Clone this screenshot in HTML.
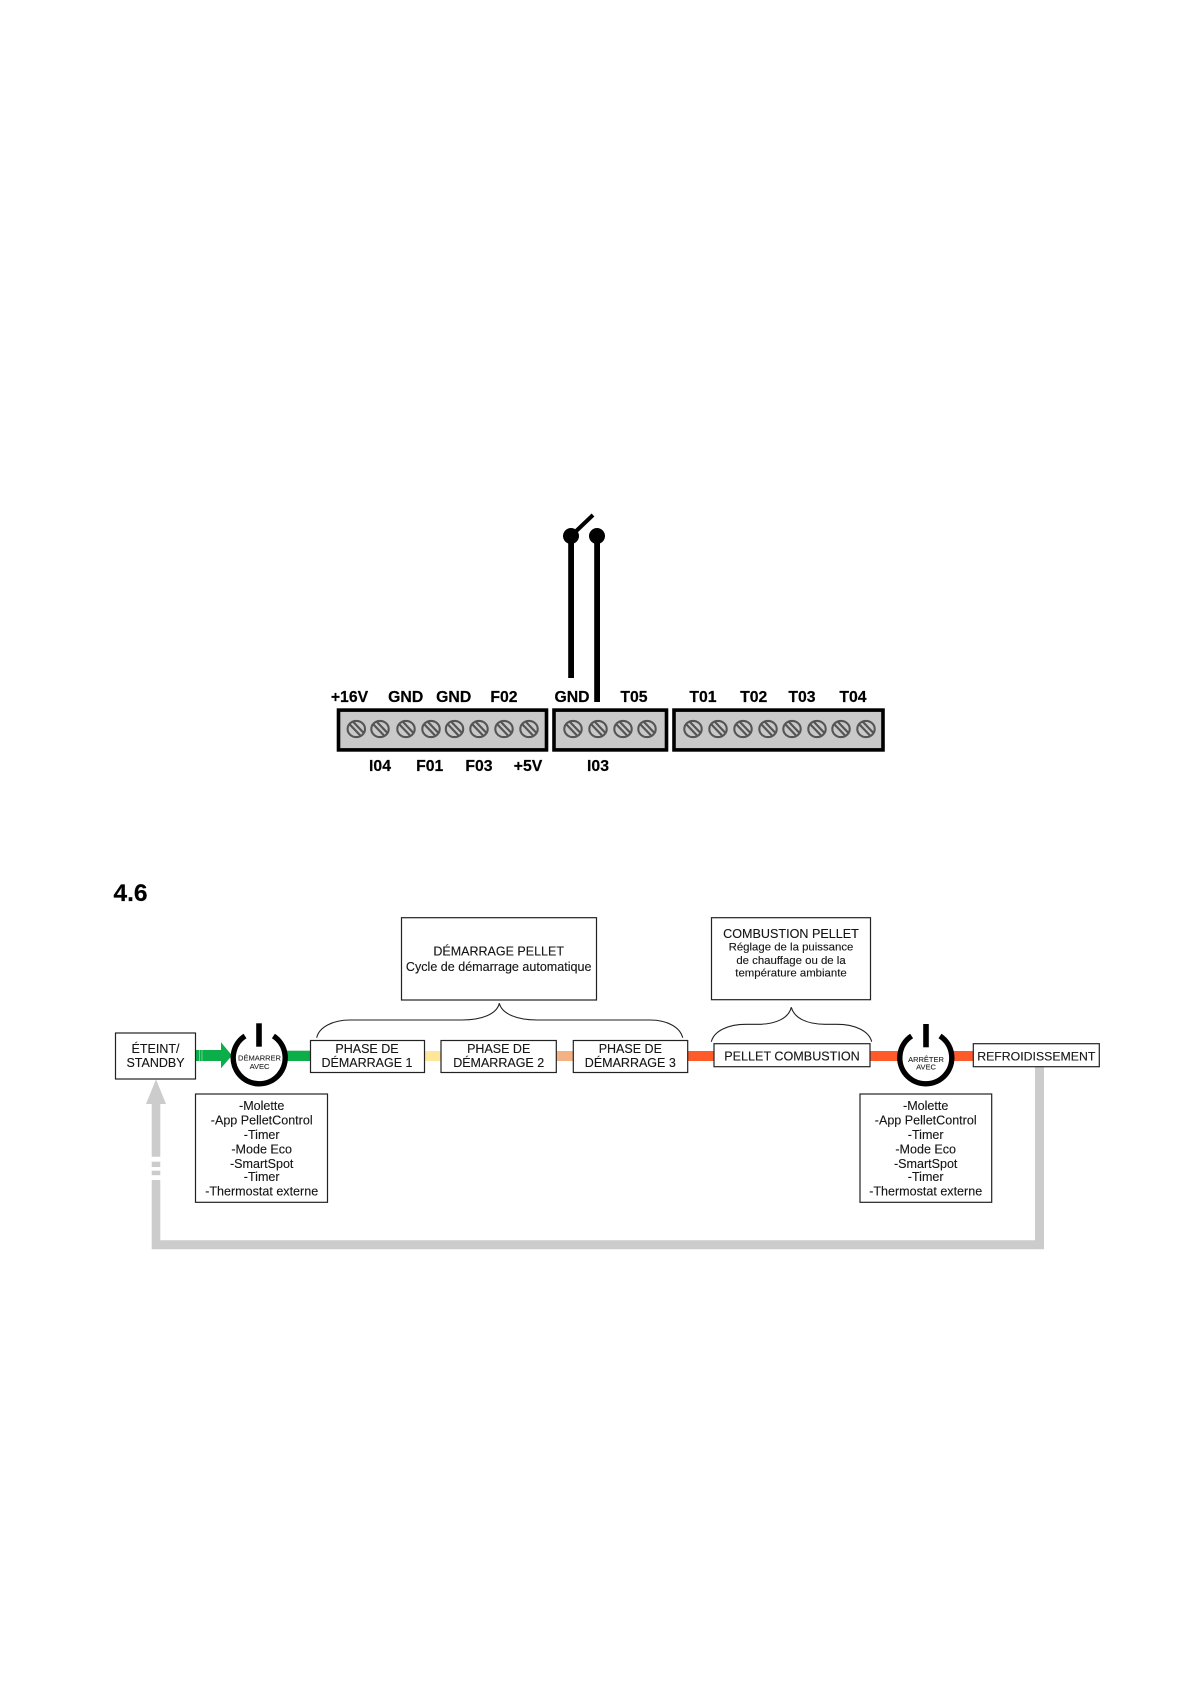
<!DOCTYPE html>
<html lang="fr">
<head>
<meta charset="utf-8">
<title>Diagram</title>
<style>
html,body{margin:0;padding:0;background:#fff}
svg{display:block;filter:blur(.35px)}
text{font-family:"Liberation Sans",sans-serif;fill:#151515;text-anchor:middle;stroke:#151515;stroke-width:.12px}
.b{font-weight:bold;font-size:15.8px;fill:#000;stroke:#000;stroke-width:.2px}
.m{font-size:12.5px}
.l{font-size:12.55px}
.s{font-size:7.5px;fill:#222;stroke:#222;stroke-width:.1px}
.box{fill:#fff;stroke:#222;stroke-width:1.2}
.tb{fill:#c9c9c9;stroke:#000;stroke-width:3.6}
.br{fill:none;stroke:#222;stroke-width:1.1}
</style>
</head>
<body>
<svg width="1191" height="1684" viewBox="0 0 1191 1684" xmlns="http://www.w3.org/2000/svg">
<defs>
<g id="sc">
<ellipse cx="0" cy="0" rx="8.7" ry="8.1" fill="#c9c9c9" stroke="#555" stroke-width="2.1"/>
<path d="M-6.5 -4.5 L4 6.5 M-3 -7 L7.5 4" stroke="#555" stroke-width="2.2" fill="none"/>
</g>
</defs>

<!-- switch -->
<circle cx="571" cy="536" r="8" fill="#000"/>
<circle cx="597" cy="536" r="8" fill="#000"/>
<rect x="568.2" y="536" width="5.8" height="142" fill="#000"/>
<rect x="594.2" y="536" width="5.8" height="166" fill="#000"/>
<path d="M571 536 L593 515" stroke="#000" stroke-width="4" fill="none"/>

<!-- terminal blocks -->
<rect class="tb" x="338.5" y="710.1" width="208" height="39.8"/>
<rect class="tb" x="554" y="710.1" width="112.5" height="39.8"/>
<rect class="tb" x="674" y="710.1" width="209" height="39.8"/>
<use href="#sc" x="356.3" y="729"/><use href="#sc" x="380" y="729"/><use href="#sc" x="406" y="729"/><use href="#sc" x="431" y="729"/>
<use href="#sc" x="454.5" y="729"/><use href="#sc" x="479" y="729"/><use href="#sc" x="504" y="729"/><use href="#sc" x="529" y="729"/>
<use href="#sc" x="573" y="729"/><use href="#sc" x="598" y="729"/><use href="#sc" x="623" y="729"/><use href="#sc" x="647" y="729"/>
<use href="#sc" x="693" y="729"/><use href="#sc" x="718" y="729"/><use href="#sc" x="743" y="729"/><use href="#sc" x="768" y="729"/>
<use href="#sc" x="792" y="729"/><use href="#sc" x="817" y="729"/><use href="#sc" x="841" y="729"/><use href="#sc" x="866" y="729"/>

<text class="b" x="349.5" y="702">+16V</text>
<text class="b" x="405.7" y="702">GND</text>
<text class="b" x="453.7" y="702">GND</text>
<text class="b" x="504" y="702">F02</text>
<text class="b" x="572" y="702">GND</text>
<text class="b" x="634" y="702">T05</text>
<text class="b" x="703" y="702">T01</text>
<text class="b" x="753.7" y="702">T02</text>
<text class="b" x="802" y="702">T03</text>
<text class="b" x="853" y="702">T04</text>
<text class="b" x="380" y="771">I04</text>
<text class="b" x="429.7" y="771">F01</text>
<text class="b" x="479" y="771">F03</text>
<text class="b" x="528" y="771">+5V</text>
<text class="b" x="598" y="771">I03</text>

<text x="130.5" y="901" style="font-weight:bold;font-size:24.5px;fill:#000;stroke:#000;stroke-width:.2px">4.6</text>

<!-- grey return -->
<path d="M1035 1067 H1044 V1249.3 H151.7 V1180 H160.3 V1240.3 H1035 Z" fill="#ccc"/>
<rect x="151.7" y="1170.7" width="8.6" height="4.5" fill="#ccc"/>
<rect x="151.7" y="1161.7" width="8.6" height="5.3" fill="#ccc"/>
<path d="M151.7 1156.7 V1104 H146 L156 1079.3 L166 1104 H160.3 V1156.7 Z" fill="#ccc"/>

<!-- coloured connectors -->
<path d="M196 1050 H221 V1042.3 L232 1055.5 L221 1068.3 V1061 H196 Z" fill="#0cae4a"/>
<path d="M199.5 1050 V1061 M202 1050 V1061" stroke="#7fd89f" stroke-width=".8"/>
<rect x="286" y="1050.7" width="26" height="10.3" fill="#0cae4a"/>
<rect x="424" y="1051" width="18" height="10" fill="#ffe699"/>
<rect x="556" y="1051" width="18" height="10" fill="#f4b183"/>
<rect x="687" y="1051" width="28" height="10" fill="#ff5a2a"/>
<rect x="870" y="1051" width="30" height="10" fill="#ff5a2a"/>
<rect x="952" y="1051" width="22" height="10" fill="#ff5a2a"/>

<!-- boxes -->
<rect class="box" x="115.5" y="1033" width="80" height="46"/>
<text class="m" x="155.5" y="1053">ÉTEINT/</text>
<text class="m" x="155.5" y="1067">STANDBY</text>

<rect class="box" x="310.5" y="1040.5" width="114" height="32"/>
<text class="m" x="367" y="1053">PHASE DE</text>
<text class="m" x="367" y="1067">DÉMARRAGE 1</text>
<rect class="box" x="441" y="1040.5" width="115.3" height="32"/>
<text class="m" x="498.7" y="1053">PHASE DE</text>
<text class="m" x="498.7" y="1067">DÉMARRAGE 2</text>
<rect class="box" x="573.3" y="1040.5" width="114.4" height="32"/>
<text class="m" x="630.3" y="1053">PHASE DE</text>
<text class="m" x="630.3" y="1067">DÉMARRAGE 3</text>

<rect class="box" x="714" y="1043.7" width="156" height="23"/>
<text class="m" x="792" y="1060.5" style="font-size:12.6px">PELLET COMBUSTION</text>
<rect class="box" x="973.3" y="1043.7" width="126" height="23"/>
<text class="m" x="1036.3" y="1060.5" style="font-size:12.3px">REFROIDISSEMENT</text>

<rect class="box" x="401.5" y="917.7" width="195" height="82.3"/>
<text class="m" x="498.7" y="955.7">DÉMARRAGE PELLET</text>
<text class="l" x="498.7" y="971">Cycle de démarrage automatique</text>

<rect class="box" x="711.5" y="917.7" width="159" height="82"/>
<text class="m" x="791" y="938" style="font-size:12.6px">COMBUSTION PELLET</text>
<text x="791" y="950.7" style="font-size:11.4px">Réglage de la puissance</text>
<text x="791" y="964" style="font-size:11.4px">de chauffage ou de la</text>
<text x="791" y="976.7" style="font-size:11.4px">température ambiante</text>

<!-- braces -->
<path class="br" d="M316.7 1037.7 C319 1027 333 1020 350 1020 H462 C482 1020 497 1014 499.3 1003.3 C502 1014 517 1020 537 1020 H650 C667 1020 680 1027 682.7 1037.7"/>
<path class="br" d="M711.3 1041.7 C714 1031 728 1024.3 746 1024.3 H758 C776 1024.3 789 1018 791.3 1007.3 C794 1018 807 1024.3 825 1024.3 H837 C855 1024.3 869 1031 871.7 1041.7"/>

<!-- power icons -->
<path d="M245 1036 A26 26 0 1 0 273.4 1036" fill="none" stroke="#000" stroke-width="5.4"/>
<rect x="256.2" y="1023.3" width="5.6" height="23.4" fill="#000"/>
<text class="s" x="259.5" y="1060.7">DÉMARRER</text>
<text class="s" x="259.5" y="1069">AVEC</text>

<path d="M911.6 1036 A26 26 0 1 0 940 1036" fill="none" stroke="#000" stroke-width="5.4"/>
<rect x="923.2" y="1024" width="5.6" height="23.3" fill="#000"/>
<text class="s" x="926" y="1062">ARRÊTER</text>
<text class="s" x="926" y="1069.7">AVEC</text>

<!-- lists -->
<rect class="box" x="195.5" y="1094" width="132" height="108.3"/>
<text class="l" x="261.7" y="1110">-Molette</text>
<text class="l" x="261.7" y="1124.7">-App PelletControl</text>
<text class="l" x="261.7" y="1139">-Timer</text>
<text class="l" x="261.7" y="1153.3">-Mode Eco</text>
<text class="l" x="261.7" y="1168">-SmartSpot</text>
<text class="l" x="261.7" y="1181">-Timer</text>
<text class="l" x="261.7" y="1195.3">-Thermostat externe</text>

<rect class="box" x="860" y="1094" width="131.7" height="108.3"/>
<text class="l" x="925.7" y="1110">-Molette</text>
<text class="l" x="925.7" y="1124.7">-App PelletControl</text>
<text class="l" x="925.7" y="1139">-Timer</text>
<text class="l" x="925.7" y="1153.3">-Mode Eco</text>
<text class="l" x="925.7" y="1168">-SmartSpot</text>
<text class="l" x="925.7" y="1181">-Timer</text>
<text class="l" x="925.7" y="1195.3">-Thermostat externe</text>
</svg>
</body>
</html>
